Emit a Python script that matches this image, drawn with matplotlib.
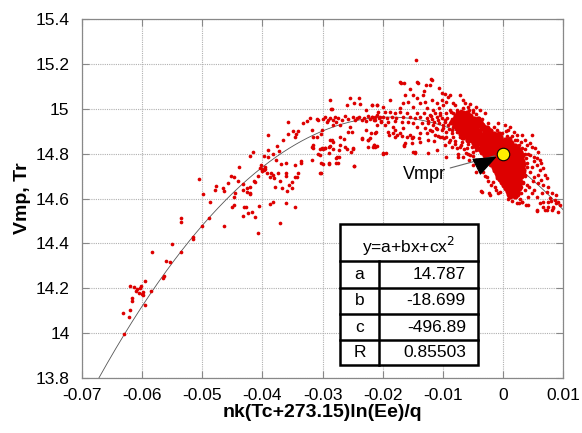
import numpy as np
import matplotlib
matplotlib.use("Agg")
import matplotlib.pyplot as plt

plt.rcParams['font.family'] = ['Liberation Sans', 'DejaVu Sans']

# ---------------- data ----------------
fit_names = ["a", "b", "c", "R"]
fit_values = ["14.787", "-18.699", "-496.89", "0.85503"]
coef_a, coef_b, coef_c = 14.787, -18.699, -496.89

vmpr_x = [0.0]
vmpr_y = [14.80]

x_ticks = [-0.07, -0.06, -0.05, -0.04, -0.03, -0.02, -0.01, 0.0, 0.01]
x_tick_labels = ["-0.07", "-0.06", "-0.05", "-0.04", "-0.03", "-0.02", "-0.01", "0", "0.01"]
y_ticks = [13.8, 14.0, 14.2, 14.4, 14.6, 14.8, 15.0, 15.2, 15.4]
y_tick_labels = ["13.8", "14", "14.2", "14.4", "14.6", "14.8", "15", "15.2", "15.4"]

# scattered points, left / middle part
left_points = [
    (-0.0630, 13.996), (-0.0632, 14.091), (-0.0622, 14.073), (-0.0620, 14.104), (-0.0617, 14.144),
    (-0.0617, 14.158), (-0.0595, 14.127), (-0.0620, 14.209), (-0.0613, 14.204), (-0.0608, 14.198),
    (-0.0604, 14.202), (-0.0602, 14.210), (-0.0611, 14.189), (-0.0605, 14.180), (-0.0601, 14.174),
    (-0.0598, 14.183), (-0.0598, 14.171), (-0.0585, 14.188), (-0.0595, 14.232), (-0.0566, 14.246),
    (-0.0563, 14.256), (-0.0553, 14.318), (-0.0561, 14.321), (-0.0584, 14.362), (-0.0535, 14.362),
    (-0.0550, 14.396), (-0.0515, 14.430), (-0.0516, 14.418), (-0.0500, 14.479), (-0.0535, 14.495),
    (-0.0535, 14.513), (-0.0488, 14.514), (-0.0487, 14.584), (-0.0499, 14.621), (-0.0478, 14.638),
    (-0.0477, 14.657), (-0.0506, 14.686), (-0.0464, 14.479), (-0.0448, 14.570), (-0.0450, 14.563),
    (-0.0432, 14.522), (-0.0431, 14.563), (-0.0427, 14.563), (-0.0424, 14.534), (-0.0418, 14.541),
    (-0.0412, 14.516), (-0.0408, 14.445), (-0.0405, 14.567), (-0.0387, 14.577), (-0.0382, 14.583),
    (-0.0370, 14.489), (-0.0360, 14.581), (-0.0345, 14.563), (-0.0464, 14.633), (-0.0457, 14.670),
    (-0.0447, 14.696), (-0.0439, 14.742), (-0.0447, 14.608), (-0.0433, 14.639), (-0.0426, 14.645),
    (-0.0420, 14.650), (-0.0421, 14.623), (-0.0414, 14.678), (-0.0420, 14.791), (-0.0415, 14.806),
    (-0.0412, 14.672), (-0.0407, 14.702), (-0.0404, 14.735), (-0.0402, 14.749), (-0.0398, 14.789),
    (-0.0398, 14.727), (-0.0400, 14.722), (-0.0396, 14.730), (-0.0401, 14.733), (-0.0396, 14.742),
    (-0.0393, 14.712), (-0.0391, 14.883), (-0.0390, 14.818), (-0.0390, 14.786), (-0.0387, 14.697),
    (-0.0385, 14.712), (-0.0382, 14.705), (-0.0379, 14.653), (-0.0375, 14.835), (-0.0372, 14.812),
    (-0.0382, 14.798), (-0.0377, 14.772), (-0.0374, 14.712), (-0.0369, 14.754), (-0.0368, 14.645),
    (-0.0365, 14.861), (-0.0361, 14.757), (-0.0360, 14.712), (-0.0359, 14.635), (-0.0357, 14.940),
    (-0.0357, 14.886), (-0.0349, 14.901), (-0.0346, 14.876), (-0.0344, 14.887), (-0.0341, 14.901),
    (-0.0346, 14.749), (-0.0343, 14.697), (-0.0446, 14.623), (-0.0426, 14.630), (-0.0420, 14.620),
    (-0.0465, 14.645), (-0.0432, 14.664), (-0.0452, 14.700), (-0.0440, 14.680), (-0.0380, 14.690),
    (-0.0370, 14.680), (-0.0360, 14.700), (-0.0350, 14.672), (-0.0345, 14.695), (-0.0355, 14.660),
    (-0.0350, 14.645),
]

mid_points = [
    (-0.0332, 14.935), (-0.0310, 14.953), (-0.0307, 14.950), (-0.0318, 14.905), (-0.0301, 14.905),
    (-0.0315, 14.876), (-0.0303, 14.888), (-0.0279, 14.965), (-0.0274, 14.957), (-0.0268, 14.950),
    (-0.0277, 14.942), (-0.0271, 14.927), (-0.0282, 14.927), (-0.0254, 14.920), (-0.0257, 14.898),
    (-0.0251, 14.898), (-0.0288, 14.861), (-0.0282, 14.853), (-0.0296, 14.823), (-0.0290, 14.831),
    (-0.0304, 14.819), (-0.0299, 14.819), (-0.0315, 14.824), (-0.0271, 14.876), (-0.0265, 14.864),
    (-0.0249, 14.823), (-0.0262, 14.831), (-0.0235, 14.864), (-0.0227, 14.905), (-0.0224, 14.860),
    (-0.0221, 14.868), (-0.0216, 14.831), (-0.0212, 14.828), (-0.0248, 14.746), (-0.0304, 14.712),
    (-0.0290, 14.754), (-0.0276, 14.786), (-0.0275, 14.760), (-0.0336, 14.757), (-0.0340, 14.712),
    (-0.0318, 14.770), (-0.0305, 14.795), (-0.0288, 15.039), (-0.0255, 15.049), (-0.0247, 15.027),
    (-0.0238, 15.021), (-0.0218, 15.017), (-0.0210, 15.017), (-0.0285, 14.997), (-0.0260, 15.017),
    (-0.0227, 14.994), (-0.0239, 15.049), (-0.0286, 14.999), (-0.0335, 14.769), (-0.0318, 14.831),
    (-0.0315, 14.838), (-0.0310, 14.876), (-0.0307, 14.798), (-0.0303, 14.757), (-0.0300, 14.752),
    (-0.0303, 14.715), (-0.0301, 14.824), (-0.0296, 14.826), (-0.0290, 14.804), (-0.0290, 14.757),
    (-0.0288, 14.834), (-0.0285, 14.861), (-0.0282, 14.820), (-0.0277, 14.757), (-0.0278, 14.779),
    (-0.0272, 14.783), (-0.0272, 14.816), (-0.0271, 14.838), (-0.0260, 14.819), (-0.0252, 14.809),
    (-0.0249, 14.819), (-0.0248, 14.745), (-0.0235, 14.868), (-0.0224, 14.861), (-0.0224, 14.831),
    (-0.0215, 14.838), (-0.0209, 14.834), (-0.0220, 14.890), (-0.0212, 14.892), (-0.0199, 14.798),
    (-0.0300, 14.955), (-0.0296, 14.962), (-0.0291, 14.948), (-0.0287, 14.958), (-0.0283, 14.950),
    (-0.0262, 14.968), (-0.0258, 14.955), (-0.0250, 14.962), (-0.0246, 14.950), (-0.0242, 14.958),
    (-0.0239, 14.965), (-0.0235, 14.952), (-0.0231, 14.960), (-0.0228, 14.945), (-0.0225, 14.968),
    (-0.0221, 14.955), (-0.0217, 14.962), (-0.0213, 14.950), (-0.0210, 14.972), (-0.0206, 14.958),
    (-0.0203, 14.945), (-0.0200, 14.965), (-0.0325, 14.945), (-0.0320, 14.958), (-0.0293, 14.940),
]

# band of points around the maximum, -0.022 .. -0.004
band_points = [
    (-0.0145, 15.216), (-0.0171, 15.119), (-0.0164, 15.113), (-0.0143, 15.119), (-0.0118, 15.130),
    (-0.0170, 15.116), (-0.0142, 15.113), (-0.0128, 15.106), (-0.0120, 15.131), (-0.0121, 15.106),
    (-0.0107, 15.091), (-0.0155, 15.087), (-0.0163, 15.061), (-0.0149, 15.061), (-0.0132, 15.081),
    (-0.0133, 15.061), (-0.0143, 15.046), (-0.0102, 15.069), (-0.0096, 15.066), (-0.0091, 15.054),
    (-0.0088, 15.061), (-0.0138, 15.024), (-0.0130, 15.032), (-0.0118, 15.039), (-0.0110, 15.024),
    (-0.0102, 15.039), (-0.0099, 15.017), (-0.0094, 15.032), (-0.0083, 15.024), (-0.0080, 15.017),
    (-0.0071, 15.061), (-0.0066, 15.039), (-0.0063, 15.024), (-0.0058, 15.009), (-0.0055, 15.021),
    (-0.0049, 14.994), (-0.0044, 15.006), (-0.0188, 15.039), (-0.0166, 15.024), (-0.0157, 15.032),
    (-0.0171, 15.002), (-0.0149, 15.009), (-0.0127, 15.002), (-0.0116, 14.994), (-0.0107, 15.002),
    (-0.0088, 14.994), (-0.0077, 14.994), (-0.0066, 15.002), (-0.0218, 15.017), (-0.0210, 15.017),
    (-0.0199, 15.009), (-0.0207, 14.987), (-0.0196, 14.987), (-0.0188, 14.987), (-0.0179, 14.980),
    (-0.0171, 14.987), (-0.0160, 14.980), (-0.0143, 14.980), (-0.0132, 14.983), (-0.0121, 14.972),
    (-0.0113, 14.980), (-0.0105, 14.980), (-0.0094, 14.980), (-0.0083, 14.983), (-0.0071, 14.980),
    (-0.0218, 14.965), (-0.0213, 14.962), (-0.0204, 14.965), (-0.0193, 14.957), (-0.0185, 14.965),
    (-0.0177, 14.960), (-0.0166, 14.965), (-0.0155, 14.962), (-0.0146, 14.957), (-0.0138, 14.965),
    (-0.0127, 14.957), (-0.0118, 14.953), (-0.0110, 14.962), (-0.0102, 14.957), (-0.0096, 14.950),
    (-0.0085, 14.953), (-0.0077, 14.950), (-0.0066, 14.957), (-0.0058, 14.950), (-0.0049, 14.957),
    (-0.0215, 14.950), (-0.0202, 14.942), (-0.0191, 14.942), (-0.0179, 14.947), (-0.0168, 14.942),
    (-0.0157, 14.942), (-0.0149, 14.935), (-0.0135, 14.938), (-0.0124, 14.935), (-0.0116, 14.928),
    (-0.0107, 14.935), (-0.0099, 14.928), (-0.0091, 14.928), (-0.0083, 14.920), (-0.0074, 14.928),
    (-0.0063, 14.920), (-0.0055, 14.928), (-0.0044, 14.935), (-0.0210, 14.928), (-0.0196, 14.928),
    (-0.0182, 14.920), (-0.0166, 14.913), (-0.0143, 14.920), (-0.0130, 14.913), (-0.0121, 14.905),
    (-0.0110, 14.908), (-0.0102, 14.905), (-0.0094, 14.898), (-0.0085, 14.905), (-0.0077, 14.898),
    (-0.0066, 14.898), (-0.0055, 14.890), (-0.0044, 14.898), (-0.0211, 14.898), (-0.0191, 14.898),
    (-0.0179, 14.905), (-0.0171, 14.890), (-0.0155, 14.883), (-0.0138, 14.890), (-0.0127, 14.890),
    (-0.0113, 14.883), (-0.0105, 14.875), (-0.0094, 14.875), (-0.0083, 14.875), (-0.0071, 14.875),
    (-0.0060, 14.868), (-0.0049, 14.875), (-0.0041, 14.861), (-0.0215, 14.838), (-0.0199, 14.801),
    (-0.0163, 14.846), (-0.0152, 14.868), (-0.0138, 14.853), (-0.0146, 14.809), (-0.0110, 14.816),
    (-0.0096, 14.838), (-0.0085, 14.831), (-0.0077, 14.823), (-0.0069, 14.838), (-0.0060, 14.823),
    (-0.0052, 14.831), (-0.0044, 14.816), (-0.0074, 14.786), (-0.0055, 14.794), (-0.0102, 14.875),
    (-0.0094, 14.786), (-0.0074, 14.800), (-0.0124, 14.801), (-0.0149, 14.809), (-0.0165, 14.834),
    (-0.0195, 14.801), (-0.0180, 14.875), (-0.0146, 14.804), (-0.0164, 14.838), (-0.0152, 14.846),
    (-0.0190, 14.885), (-0.0183, 14.890), (-0.0176, 14.883), (-0.0168, 14.878), (-0.0160, 14.872),
    (-0.0150, 14.876), (-0.0140, 14.870), (-0.0125, 14.862), (-0.0115, 14.855), (-0.0090, 14.850),
    (-0.0080, 14.858), (-0.0068, 14.852), (-0.0058, 14.842), (-0.0050, 14.808), (-0.0062, 14.805),
    (-0.0125, 14.945), (-0.0120, 14.968), (-0.0115, 14.940), (-0.0112, 14.915), (-0.0108, 14.950),
    (-0.0104, 14.970), (-0.0100, 14.915), (-0.0097, 14.942), (-0.0093, 14.960), (-0.0090, 14.910),
    (-0.0088, 14.935), (-0.0086, 14.985), (-0.0084, 14.893), (-0.0081, 14.945), (-0.0079, 14.965),
    (-0.0076, 14.910), (-0.0073, 14.940), (-0.0070, 14.990), (-0.0068, 14.868), (-0.0065, 14.915),
    (-0.0062, 14.975), (-0.0059, 14.860), (-0.0056, 14.995), (-0.0053, 14.880), (-0.0050, 14.985),
    (-0.0047, 14.845), (-0.0045, 14.975), (-0.0040, 14.960), (-0.0036, 14.940), (-0.0032, 14.925),
    (-0.0028, 14.920), (-0.0024, 14.915), (-0.0020, 14.905), (-0.0010, 14.905), (-0.0002, 14.890),
    (-0.0065, 14.820), (-0.0072, 14.830), (-0.0080, 14.845), (-0.0088, 14.860), (-0.0098, 14.870),
    (-0.0108, 14.880), (-0.0118, 14.900),
]

# points around the dense cluster near x = 0
edge_points = [
    (-0.0008, 14.935), (0.0004, 14.928), (0.0012, 14.920), (0.0009, 14.905), (0.0018, 14.898),
    (0.0023, 14.883), (0.0031, 14.883), (0.0037, 14.861), (0.0048, 14.883), (0.0045, 14.846),
    (0.0040, 14.838), (0.0048, 14.831), (0.0054, 14.823), (0.0059, 14.809), (0.0045, 14.794),
    (0.0051, 14.786), (0.0056, 14.779), (0.0062, 14.771), (0.0064, 14.757), (0.0056, 14.749),
    (0.0048, 14.742), (0.0067, 14.734), (0.0062, 14.727), (0.0070, 14.705), (0.0059, 14.705),
    (0.0051, 14.697), (0.0064, 14.682), (0.0073, 14.690), (0.0059, 14.667), (0.0067, 14.660),
    (0.0075, 14.653), (0.0073, 14.630), (0.0081, 14.623), (0.0089, 14.615), (0.0078, 14.601),
    (0.0087, 14.593), (0.0092, 14.586), (0.0095, 14.571), (0.0084, 14.563), (0.0075, 14.563),
    (0.0067, 14.586), (0.0056, 14.608), (0.0048, 14.623), (0.0042, 14.608), (0.0031, 14.586),
    (0.0026, 14.578), (0.0042, 14.571), (0.0056, 14.549), (0.0070, 14.549), (0.0081, 14.549),
    (0.0062, 14.578), (0.0037, 14.638), (0.0040, 14.660), (0.0034, 14.675), (0.0029, 14.697),
    (0.0037, 14.705), (0.0045, 14.720), (-0.0005, 14.630), (-0.0035, 14.630), (-0.0021, 14.615),
    (-0.0013, 14.653), (-0.0016, 14.675), (-0.0010, 14.690), (-0.0027, 14.697), (-0.0038, 14.734),
    (-0.0049, 14.749), (-0.0057, 14.771), (-0.0066, 14.786), (-0.0036, 14.635), (-0.0023, 14.623),
    (-0.0008, 14.626), (-0.0044, 14.719), (0.0023, 14.578), (0.0031, 14.586), (0.0039, 14.571),
    (0.0056, 14.544), (0.0067, 14.563), (0.0073, 14.549), (0.0084, 14.556), (0.0092, 14.541),
    (0.0089, 14.578), (0.0075, 14.586), (0.0035, 14.720), (0.0040, 14.760), (0.0042, 14.800),
    (0.0036, 14.820), (0.0030, 14.850), (0.0024, 14.860), (0.0015, 14.880), (0.0005, 14.900),
    (-0.0015, 14.920), (-0.0025, 14.935), (-0.0035, 14.955), (-0.0030, 14.980), (-0.0038, 14.995),
    (0.0052, 14.765), (0.0050, 14.680), (0.0044, 14.650), (0.0030, 14.625), (0.0008, 14.600),
    (0.0015, 14.590), (0.0028, 14.600), (0.0052, 14.640), (0.0065, 14.625), (0.0080, 14.590),
    (0.0006, 14.880), (0.0012, 14.870), (0.0020, 14.860), (0.0026, 14.840), (0.0032, 14.825),
    (0.0036, 14.800), (0.0038, 14.780), (0.0040, 14.740), (0.0036, 14.700), (0.0033, 14.670),
    (0.0030, 14.650), (-0.0012, 14.640), (-0.0020, 14.660), (-0.0025, 14.680), (-0.0030, 14.700),
    (-0.0033, 14.720), (-0.0040, 14.750), (-0.0045, 14.770), (-0.0050, 14.790), (-0.0058, 14.800),
]

# densest part of the cloud (drawn with larger dots so it reads as solid)
core_points = [
    (-0.0075, 14.981), (-0.0067, 14.981), (-0.0060, 14.981),
    (-0.0078, 14.967), (-0.0070, 14.967), (-0.0062, 14.967), (-0.0054, 14.967),
    (-0.0080, 14.954), (-0.0072, 14.954), (-0.0064, 14.954), (-0.0056, 14.954), (-0.0048, 14.954), (-0.0042, 14.954),
    (-0.0084, 14.941), (-0.0076, 14.941), (-0.0068, 14.941), (-0.0060, 14.941), (-0.0052, 14.941), (-0.0045, 14.941),
    (-0.0038, 14.941),
    (-0.0080, 14.928), (-0.0074, 14.928), (-0.0066, 14.928), (-0.0058, 14.928), (-0.0050, 14.928), (-0.0042, 14.928),
    (-0.0035, 14.928),
    (-0.0076, 14.914), (-0.0068, 14.914), (-0.0060, 14.914), (-0.0052, 14.914), (-0.0044, 14.914), (-0.0035, 14.914),
    (-0.0027, 14.914),
    (-0.0071, 14.901), (-0.0063, 14.901), (-0.0055, 14.901), (-0.0047, 14.901), (-0.0039, 14.901), (-0.0030, 14.901),
    (-0.0022, 14.901),
    (-0.0070, 14.887), (-0.0062, 14.887), (-0.0054, 14.887), (-0.0046, 14.887), (-0.0038, 14.887), (-0.0030, 14.887),
    (-0.0022, 14.887), (-0.0014, 14.887), (-0.0007, 14.887),
    (-0.0066, 14.874), (-0.0058, 14.874), (-0.0050, 14.874), (-0.0042, 14.874), (-0.0034, 14.874), (-0.0026, 14.874),
    (-0.0018, 14.874), (-0.0010, 14.874), (-0.0004, 14.874),
    (-0.0058, 14.860), (-0.0052, 14.860), (-0.0044, 14.860), (-0.0036, 14.860), (-0.0028, 14.860), (-0.0020, 14.860),
    (-0.0012, 14.860), (-0.0004, 14.860), (0.0004, 14.860), (0.0010, 14.860),
    (-0.0048, 14.847), (-0.0040, 14.847), (-0.0032, 14.847), (-0.0024, 14.847), (-0.0016, 14.847), (-0.0008, 14.847),
    (0.0000, 14.847), (0.0008, 14.847), (0.0014, 14.847),
    (-0.0044, 14.834), (-0.0034, 14.834), (-0.0026, 14.834), (-0.0018, 14.834), (-0.0010, 14.834), (-0.0002, 14.834),
    (0.0006, 14.834), (0.0014, 14.834), (0.0020, 14.834),
    (-0.0038, 14.821), (-0.0030, 14.821), (-0.0022, 14.821), (-0.0014, 14.821), (-0.0006, 14.821), (0.0002, 14.821),
    (0.0010, 14.821), (0.0018, 14.821), (0.0025, 14.821),
    (-0.0034, 14.807), (-0.0026, 14.807), (-0.0018, 14.807), (-0.0010, 14.807), (-0.0002, 14.807), (0.0006, 14.807),
    (0.0014, 14.807), (0.0022, 14.807), (0.0029, 14.807),
    (-0.0030, 14.794), (-0.0022, 14.794), (-0.0014, 14.794), (-0.0006, 14.794), (0.0002, 14.794), (0.0010, 14.794),
    (0.0018, 14.794), (0.0026, 14.794), (0.0032, 14.794),
    (-0.0026, 14.780), (-0.0018, 14.780), (-0.0010, 14.780), (-0.0002, 14.780), (0.0006, 14.780), (0.0014, 14.780),
    (0.0022, 14.780), (0.0030, 14.780),
    (-0.0022, 14.767), (-0.0014, 14.767), (-0.0006, 14.767), (0.0002, 14.767), (0.0010, 14.767), (0.0018, 14.767),
    (0.0026, 14.767), (0.0032, 14.767),
    (-0.0019, 14.753), (-0.0011, 14.753), (-0.0003, 14.753), (0.0005, 14.753), (0.0013, 14.753), (0.0021, 14.753),
    (0.0028, 14.753), (0.0034, 14.753),
    (-0.0015, 14.740), (-0.0007, 14.740), (0.0001, 14.740), (0.0009, 14.740), (0.0017, 14.740), (0.0025, 14.740),
    (0.0032, 14.740),
    (-0.0013, 14.727), (-0.0005, 14.727), (0.0003, 14.727), (0.0011, 14.727), (0.0019, 14.727), (0.0027, 14.727),
    (0.0033, 14.727),
    (-0.0010, 14.714), (-0.0002, 14.714), (0.0006, 14.714), (0.0014, 14.714), (0.0022, 14.714), (0.0030, 14.714),
    (-0.0008, 14.700), (0.0000, 14.700), (0.0008, 14.700), (0.0016, 14.700), (0.0024, 14.700), (0.0030, 14.700),
    (-0.0005, 14.687), (0.0003, 14.687), (0.0011, 14.687), (0.0019, 14.687), (0.0027, 14.687),
    (-0.0002, 14.673), (0.0006, 14.673), (0.0014, 14.673), (0.0022, 14.673), (0.0028, 14.673),
    (0.0002, 14.660), (0.0010, 14.660), (0.0018, 14.660), (0.0026, 14.660),
    (0.0005, 14.646), (0.0013, 14.646), (0.0021, 14.646), (0.0027, 14.646),
    (0.0008, 14.633), (0.0016, 14.633), (0.0023, 14.633),
    (0.0010, 14.622), (0.0017, 14.622), (0.0024, 14.622),
    (0.0012, 14.611), (0.0020, 14.611),
]

# ---------------- figure ----------------
fig = plt.figure(figsize=(5.82, 4.33), dpi=100)
ax = fig.add_axes([0.1409, 0.127, 0.8265, 0.8291])

ax.set_xlim(-0.07, 0.01)
ax.set_ylim(13.8, 15.4)

red = '#dd0000'
small = np.array(left_points + mid_points + band_points + edge_points)
core = np.array(core_points)
ax.scatter(small[:, 0], small[:, 1], s=7, c=red, linewidths=0, zorder=3)
ax.scatter(core[:, 0], core[:, 1], s=20, c=red, linewidths=0, zorder=3)

# fitted curve y = a + b x + c x^2
xc = np.linspace(-0.07, 0.01, 400)
yc = np.polyval([coef_c, coef_b, coef_a], xc)
ax.plot(xc, yc, color='#555555', lw=0.6, zorder=2)

# Vmpr point and arrow
ax.plot(vmpr_x, vmpr_y, 'o', ms=9, mfc='#ffee00', mec='black', mew=0.8, zorder=6)
ax.annotate('Vmpr', xy=(vmpr_x[0], vmpr_y[0]), xytext=(-0.0166, 14.705), textcoords='data',
            fontsize=13, va='center', ha='left', zorder=7,
            arrowprops=dict(arrowstyle='-', color='#666666', lw=0.8, shrinkA=1, shrinkB=6))
ax.annotate('', xy=(vmpr_x[0], vmpr_y[0]), xytext=(-0.0036, 14.752), textcoords='data', zorder=7,
            arrowprops=dict(arrowstyle='-|>,head_length=1.5,head_width=0.6', color='black',
                            lw=0.8, shrinkA=0, shrinkB=5))

# axes styling
ax.set_xticks(x_ticks)
ax.set_xticklabels(x_tick_labels)
ax.set_yticks(y_ticks)
ax.set_yticklabels(y_tick_labels)
ax.tick_params(direction='in', length=5, width=0.8, color='#888888', labelsize=12.5,
               top=True, right=True, pad=7)
ax.tick_params(axis='y', pad=9)
for sp in ax.spines.values():
    sp.set_color('#888888')
    sp.set_linewidth(0.9)
ax.grid(True, color='#b0b0b0', linestyle=(0, (1, 1)), linewidth=0.8, zorder=0)
ax.set_axisbelow(True)

ax.set_xlabel('nk(Tc+273.15)ln(Ee)/q', fontsize=14, fontweight='bold', labelpad=1)
ax.set_ylabel('Vmp, Tr', fontsize=14, fontweight='bold', labelpad=3)

# fit table (axes fraction coordinates)
tl, tr, tm = 0.5364, 0.8233, 0.6175
row_edges = [0.4290, 0.3259, 0.2521, 0.1783, 0.1058, 0.0362]
bg = plt.Rectangle((tl, row_edges[-1]), tr - tl, row_edges[0] - row_edges[-1],
                   transform=ax.transAxes, facecolor='white', edgecolor='black', lw=1.8, zorder=8)
ax.add_patch(bg)
for yy in row_edges[1:-1]:
    ax.plot([tl, tr], [yy, yy], transform=ax.transAxes, color='black', lw=1.8, zorder=9)
ax.plot([tm, tm], [row_edges[1], row_edges[-1]], transform=ax.transAxes, color='black', lw=1.8, zorder=9)
ax.text((tl + tr) / 2, row_edges[1] + 0.008, 'y=a+bx+cx$^2$', transform=ax.transAxes,
        ha='center', va='bottom', fontsize=12.5, zorder=10)
for i, (nm, val) in enumerate(zip(fit_names, fit_values)):
    yc_ = (row_edges[i + 1] + row_edges[i + 2]) / 2
    ax.text((tl + tm) / 2, yc_, nm, transform=ax.transAxes, ha='center', va='center',
            fontsize=12.5, zorder=10)
    ax.text(0.798, yc_, val, transform=ax.transAxes, ha='right', va='center',
            fontsize=12.5, zorder=10)

fig.savefig('out.png', dpi=100)
